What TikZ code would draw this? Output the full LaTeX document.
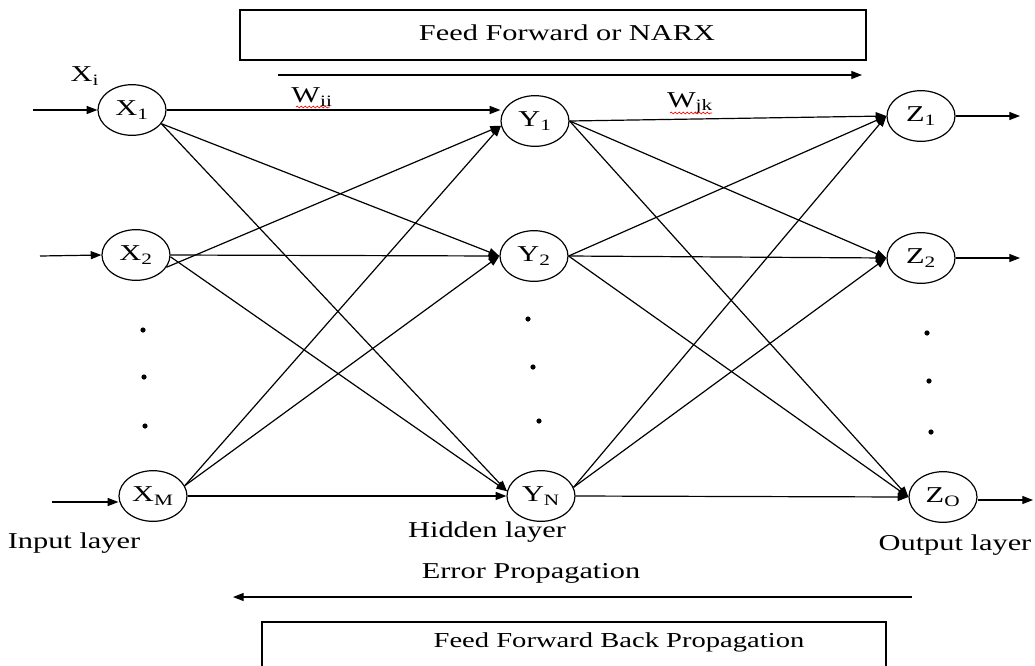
\documentclass[tikz,border=0pt]{standalone}
\usepackage{fontspec}
\setmainfont{Liberation Serif}[FakeStretch=1.34]
\usetikzlibrary{shapes.geometric,arrows.meta,decorations.pathmorphing}
\begin{document}
\begin{tikzpicture}[x=0.75pt,y=-0.75pt,
  font=\fontsize{17}{20}\selectfont,
  neuron/.style={ellipse,draw,line width=0.9pt,minimum width=51pt,minimum height=38pt,inner sep=0pt},
  conn/.style={line width=0.9pt,-{Triangle[length=8pt,width=6pt]}},
  plainline/.style={line width=0.9pt},
  lbl/.style={inner sep=0pt},
  dotmark/.style={fill=black,draw=none},
  spell/.style={red,line width=0.5pt,decorate,decoration={snake,amplitude=0.7pt,segment length=3pt}}]
\useasboundingbox (0,0) rectangle (1035,665);

% top box and feed-forward arrow
\node[draw,line width=0.9pt,minimum width=469.5pt,minimum height=37.5pt] (ffbox) at (553,35) {};
\node[lbl] (fftext) at (567,33) {Feed Forward or NARX};
\coordinate (ffa) at (278,75);
\coordinate (ffb) at (862,75);
\draw[conn] (ffa) -- (ffb);

% neurons
\node[neuron] (x1) at (132,110) {X\textsubscript{1}};
\node[neuron] (x2) at (136,255) {X\textsubscript{2}};
\node[neuron] (xm) at (153,496) {X\textsubscript{M}};
\node[neuron] (y1) at (535,121) {Y\textsubscript{1}};
\node[neuron] (y2) at (534,256) {Y\textsubscript{2}};
\node[neuron] (yn) at (541,496) {Y\textsubscript{N}};
\node[neuron] (z1) at (921,116) {Z\textsubscript{1}};
\node[neuron] (z2) at (921,258) {Z\textsubscript{2}};
\node[neuron] (zo) at (943,497) {Z\textsubscript{O}};

% inputs
\coordinate (i1) at (33,110);
\coordinate (i2) at (40,256);
\coordinate (im) at (52,502);
\draw[conn] (i1) -- (x1.west);
\draw[conn] (i2) -- (x2.west);
\draw[conn] (im) -- (im -| xm.west);
\node[lbl] (xi) at (85,76) {X\textsubscript{i}};

% outputs
\coordinate (o1) at (1020,116);
\coordinate (o2) at (1020,258);
\coordinate (oo) at (1033,500);
\draw[conn] (z1.east) -- (o1);
\draw[conn] (z2.east) -- (o2);
\draw[conn] (zo.east |- oo) -- (oo);

% input -> hidden
\draw[conn] (x1.east) -- (x1.east -| y1.west);
\draw[conn] (x1.-25) -- (y2.west);
\draw[conn] (x1.-25) -- (yn.172);
\draw[conn] (x2.-22) -- (y1.188);
\draw[conn] (x2.east) -- (y2.west);
\draw[conn] (x2.-3) -- (yn.172);
\draw[conn] (xm.18) -- (y1.188);
\draw[conn] (xm.18) -- (y2.west);
\draw[conn] (xm.east) -- (yn.west);

% hidden -> output
\draw[conn] (y1.east) -- (z1.west);
\draw[conn] (y1.east) -- (z2.west);
\draw[conn] (y1.east) -- (zo.west);
\draw[conn] (y2.east) -- (z1.west);
\draw[conn] (y2.east) -- (z2.west);
\draw[conn] (y2.east) -- (zo.west);
\draw[conn] (yn.15) -- (z1.west);
\draw[conn] (yn.15) -- (z2.west);
\draw[conn] (yn.east) -- (zo.west);

% weight labels
\node[lbl] (wii) at (312,97) {W\textsubscript{ii}};
\node[lbl] (wjk) at (690,103) {W\textsubscript{jk}};
\draw[spell] (296,107) -- (330,107);
\draw[spell] (670,113) -- (712,113);

% dots
\foreach \p in {(143,330),(144,377),(145,426),(528,319),(533,367),(539,421),(927,333),(929,381),(931,432)}
  \fill[dotmark] \p circle (2.6);

% layer labels
\node[lbl] (inl) at (74,543) {Input layer};
\node[lbl] (hidl) at (487,532) {Hidden layer};
\node[lbl] (outl) at (955,545) {Output layer};

% error propagation
\node[lbl] (errt) at (531,573) {Error Propagation};
\coordinate (ea) at (912,597);
\coordinate (eb) at (233,597);
\draw[conn] (ea) -- (eb);

% bottom box
\draw[plainline] (262,668) -- (262,622) -- (886,622) -- (886,668);
\node[lbl,font=\fontsize{16}{19}\selectfont] (fbp) at (619,642) {Feed Forward Back Propagation};
\end{tikzpicture}
\end{document}
